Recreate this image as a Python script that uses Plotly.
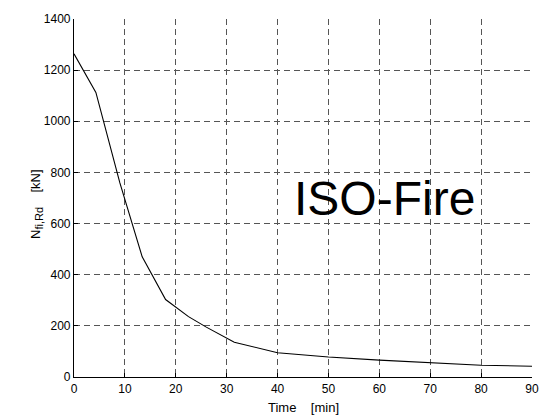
import plotly.graph_objects as go

# Axial fire resistance of the member under ISO standard fire exposure
time_min = [0, 4.3, 9.0, 13.4, 18, 22.5, 26, 31.5, 40, 50, 60, 70, 80, 90]
n_fi_rd_kn = [1264, 1113, 760, 470, 303, 236, 195, 136, 95, 78, 66, 55, 46, 42]

x_ticks = [0, 10, 20, 30, 40, 50, 60, 70, 80, 90]
y_ticks = [0, 200, 400, 600, 800, 1000, 1200, 1400]

font_family = "Liberation Sans, Arial, sans-serif"

fig = go.Figure()
fig.add_trace(go.Scatter(
    x=time_min, y=n_fi_rd_kn, mode="lines",
    line=dict(color="black", width=1.1),
    showlegend=False, hoverinfo="skip",
))

grid = dict(showgrid=True, gridcolor="#555555", griddash="6px,4px", gridwidth=1)

fig.update_layout(
    width=551, height=416,
    margin=dict(l=74, r=17, t=14, b=39),
    paper_bgcolor="white", plot_bgcolor="white",
    font=dict(family=font_family, size=12, color="black"),
    xaxis=dict(
        range=[0, 90], tickvals=x_ticks, ticks="inside", ticklen=4,
        tickcolor="black", showline=True, linecolor="black", linewidth=1.2,
        zeroline=False, tickfont=dict(size=12), **grid,
    ),
    yaxis=dict(
        range=[0, 1400], tickvals=y_ticks, ticks="inside", ticklen=4,
        tickcolor="black", showline=True, linecolor="black", linewidth=1.2,
        zeroline=False, tickfont=dict(size=12), **grid,
    ),
    annotations=[
        dict(text="Time    [min]", xref="paper", yref="paper", x=0.5, y=0,
             yshift=-30, xanchor="center", yanchor="middle", showarrow=False,
             font=dict(size=13)),
        dict(text="N<sub><span style='font-size:11px'>fi,Rd</span></sub>    [kN]",
             xref="paper", yref="paper",
             x=0, xshift=-38, y=0.5, yshift=-6, textangle=-90,
             xanchor="center", yanchor="middle", showarrow=False,
             font=dict(size=13)),
        dict(text="ISO-Fire", xref="x", yref="y", x=61, y=700,
             xanchor="center", yanchor="middle", showarrow=False,
             font=dict(size=48, color="black"), bgcolor="rgba(0,0,0,0)"),
    ],
)

fig.write_html("out.html")
